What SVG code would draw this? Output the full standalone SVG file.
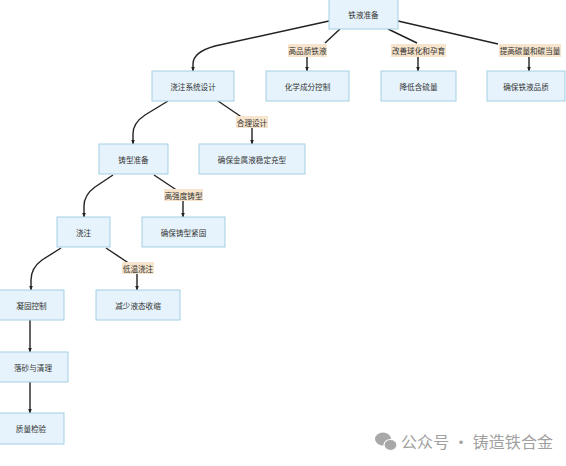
<svg xmlns="http://www.w3.org/2000/svg" width="566" height="466" viewBox="0 0 566 466">
<defs>
<style>
.n rect{fill:#e6f3fc;stroke:#a3cfe3;stroke-width:1}
.n text,.l text{font-family:"Noto Sans CJK SC","Noto Sans CJK JP",sans-serif;font-size:7.6px;fill:#333;text-anchor:middle;dominant-baseline:central}
.l rect{fill:#f6e4cc;stroke:none}
.e path{fill:none;stroke:#222;stroke-width:1.4}
.a{marker-end:url(#ah)}
.wm{font-family:"Noto Sans CJK SC",sans-serif;font-size:16px;fill:#a0a0a0}
</style>
<marker id="ah" viewBox="0 0 10 10" refX="9" refY="5" markerWidth="5" markerHeight="5" orient="auto" markerUnits="userSpaceOnUse">
<path d="M0,1 L10,5 L0,9 z" fill="#222"/>
</marker>
</defs>
<rect width="566" height="466" fill="#ffffff"/>
<g id="connectors" class="e">
<path class="a" d="M329,21 L215,46 Q193,52 193,64 L193,71"/>
<path d="M340,29 L325,43"/>
<path class="a" d="M307,57 L307,71"/>
<path d="M388,29 L417,43"/>
<path class="a" d="M418,57 L418,71"/>
<path d="M398,21 L498,44"/>
<path class="a" d="M529,57 L529,71"/>
<path class="a" d="M168,101 L145,115 Q133,123 133,134 L133,144"/>
<path d="M218,101 L243,118"/>
<path class="a" d="M252,127 L252,144"/>
<path class="a" d="M113,175 L95,187 Q84,195 84,206 L84,217"/>
<path d="M154,175 L178,191"/>
<path class="a" d="M183,200 L183,217"/>
<path class="a" d="M61,248 L42,260 Q31,268 31,280 L31,290"/>
<path d="M106,248 L130,264"/>
<path class="a" d="M137,274 L137,290"/>
<path class="a" d="M30,320 L30,352"/>
<path class="a" d="M30,382 L30,413"/>
</g>
<g id="labels" class="l">
<g id="lbl1"><rect x="288" y="44" width="39" height="13"/><text x="307.5" y="50.5">高品质铁液</text></g>
<g id="lbl2"><rect x="391" y="44" width="55" height="13"/><text x="418.5" y="50.5">改善球化和孕育</text></g>
<g id="lbl3"><rect x="499" y="44" width="62" height="13"/><text x="530" y="50.5">提高碳量和碳当量</text></g>
<g id="lbl4"><rect x="236" y="116" width="32" height="12"/><text x="252" y="122">合理设计</text></g>
<g id="lbl5"><rect x="164" y="189" width="39" height="12"/><text x="183.5" y="195">高强度铸型</text></g>
<g id="lbl6"><rect x="122" y="262" width="32" height="12"/><text x="138" y="268">低温浇注</text></g>
</g>
<g id="n1" class="n"><rect x="329" y="-1" width="69" height="30"/><text x="363.5" y="14">铁液准备</text></g>
<g id="n2" class="n"><rect x="152" y="71" width="82" height="30"/><text x="193" y="86">浇注系统设计</text></g>
<g id="n3" class="n"><rect x="266" y="71" width="83" height="30"/><text x="307.5" y="86">化学成分控制</text></g>
<g id="n4" class="n"><rect x="381" y="71" width="75" height="30"/><text x="418.5" y="86">降低含硫量</text></g>
<g id="n5" class="n"><rect x="487" y="71" width="78" height="30"/><text x="526" y="86">确保铁液品质</text></g>
<g id="n6" class="n"><rect x="99" y="144" width="69" height="30"/><text x="133.5" y="159">铸型准备</text></g>
<g id="n7" class="n"><rect x="199" y="144" width="106" height="30"/><text x="252" y="159">确保金属液稳定充型</text></g>
<g id="n8" class="n"><rect x="57" y="217" width="53" height="30"/><text x="83.5" y="232">浇注</text></g>
<g id="n9" class="n"><rect x="142" y="217" width="83" height="30"/><text x="183.5" y="232">确保铸型紧固</text></g>
<g id="n10" class="n"><rect x="-1" y="290" width="65" height="30"/><text x="31.5" y="305">凝固控制</text></g>
<g id="n11" class="n"><rect x="96" y="290" width="84" height="30"/><text x="138" y="305">减少液态收缩</text></g>
<g id="n12" class="n"><rect x="-1" y="352" width="69" height="30"/><text x="33" y="367">落砂与清理</text></g>
<g id="n13" class="n"><rect x="-1" y="413" width="65" height="31"/><text x="31" y="428.5">质量检验</text></g>
<g id="watermark">
<ellipse cx="383" cy="439" rx="8" ry="6.5" fill="#a8a8a8"/>
<ellipse cx="390.5" cy="445" rx="6.5" ry="5.5" fill="#a8a8a8" stroke="#fff" stroke-width="1.2"/>
<text class="wm" x="401" y="447.5" textLength="152" lengthAdjust="spacing">公众号 · 铸造铁合金</text>
</g>
</svg>
